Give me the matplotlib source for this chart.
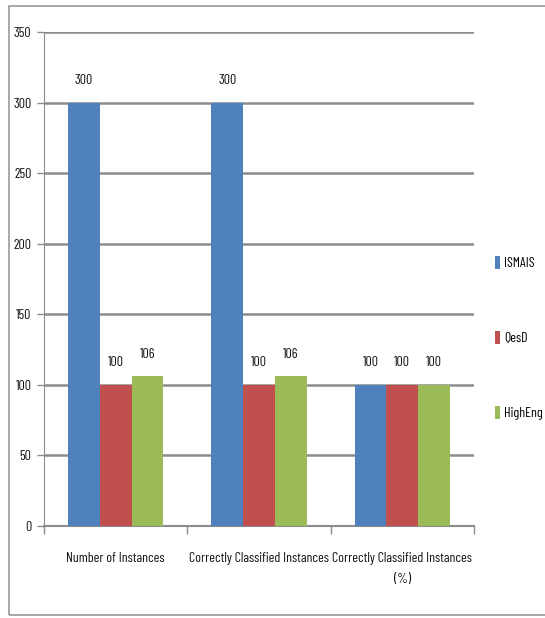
import matplotlib
matplotlib.use("Agg")
import matplotlib.pyplot as plt
from matplotlib.patches import Rectangle
import numpy as np

plt.rcParams['font.family'] = ['Barlow Condensed', 'DejaVu Sans']

categories = ["Number of Instances", "Correctly Classified Instances",
              "Correctly Classified Instances\n(%)"]
series_names = ["ISMAIS", "QesD", "HighEng"]
ismais = [300, 300, 100]
qesd = [100, 100, 100]
higheng = [106, 106, 100]
colors = ["#4F81BD", "#C0504D", "#9BBB59"]
yticks = [0, 50, 100, 150, 200, 250, 300, 350]

FS = 10.0
TXT = "#111111"

fig = plt.figure(figsize=(5.45, 6.18), dpi=100)
ax = fig.add_axes([44/545, 1-526/618, 430/545, 494/618])

# outer frame
fig.patches.append(Rectangle((9/545, 1-615/618), 1.0, 609/618, transform=fig.transFigure,
                             fill=False, edgecolor="#9a9a9a", linewidth=1.2))

x = np.arange(len(categories))
width = 0.222
for i, (vals, name, c) in enumerate(zip([ismais, qesd, higheng], series_names, colors)):
    pos = x + (i - 1) * width
    ax.bar(pos, vals, width=width, color=c, label=name, zorder=3)
    for p, v in zip(pos, vals):
        ax.text(p, v + 11, str(v), ha="center", va="bottom", fontsize=FS, color=TXT)

ax.set_xlim(-0.5, 2.5)
ax.set_ylim(0, 350)
ax.set_yticks(yticks)
ax.set_yticklabels([str(t) for t in yticks], fontsize=FS, color=TXT)
ax.yaxis.grid(True, color="#8c8c8c", linewidth=1.8, zorder=0)
ax.set_axisbelow(True)

ax.set_xticks([-0.5, 0.5, 1.5, 2.5], minor=False)
ax.set_xticklabels([])
ax.set_xticks(x, minor=True)
ax.set_xticklabels(categories, minor=True, fontsize=FS, color=TXT, linespacing=1.8)
ax.tick_params(axis="x", which="minor", length=0, pad=19)
ax.tick_params(axis="x", which="major", length=6, color="#8c8c8c", width=1)
ax.tick_params(axis="y", length=5, color="#8c8c8c", width=1, pad=4)

for s in ["top", "right"]:
    ax.spines[s].set_visible(False)
ax.spines["left"].set_color("#8c8c8c")
ax.spines["bottom"].set_color("#8c8c8c")
ax.spines["bottom"].set_linewidth(1.5)

handles, labels = ax.get_legend_handles_labels()
fig.legend(handles, labels, loc="center left", bbox_to_anchor=(482/545, 1-338/618),
           frameon=False, fontsize=FS, handlelength=0.4, handleheight=1.05,
           handletextpad=0.3, labelspacing=4.4)

fig.savefig("out.png", dpi=100)
